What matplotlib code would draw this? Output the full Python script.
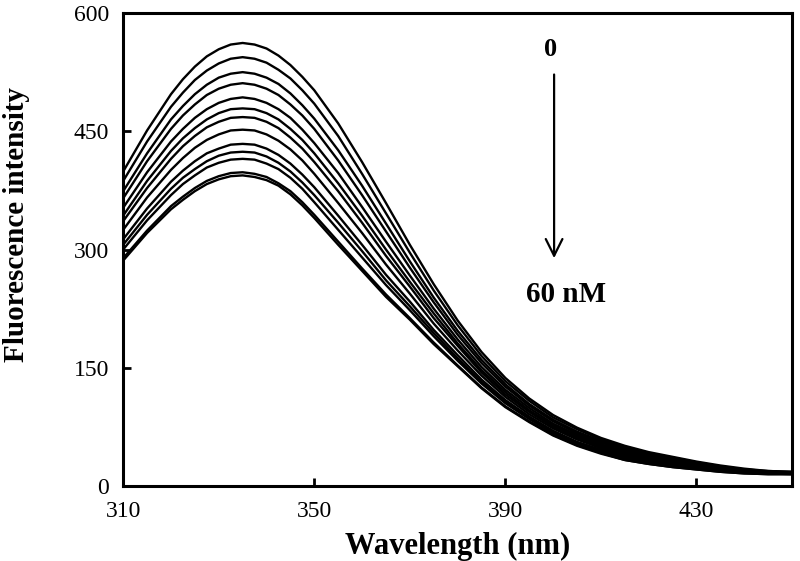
import matplotlib
matplotlib.use("Agg")
import matplotlib.pyplot as plt

plt.rcParams['font.family'] = ['Liberation Serif', 'DejaVu Serif']

wavelength = [310, 315, 320, 322.5, 325, 327.5, 330, 332.5, 335, 337.5, 340, 342.5, 345, 347.5, 350,
              355, 360, 365, 370, 375, 380, 385, 390, 395, 400, 405, 410, 415, 420, 425,
              430, 435, 440, 445, 450]

c00 = [399, 451, 497, 516, 532, 545, 554, 560, 562, 560, 555, 546, 534, 519, 502,
       460, 411, 359, 306, 256, 210, 170, 137, 111, 90, 74, 61, 51, 43, 37, 31, 26, 22, 19, 18]
c01 = [387, 437, 481, 499, 515, 527, 536, 542, 544, 542, 537, 528, 517, 502, 485,
       444, 396, 346, 296, 248, 204, 165, 133, 108, 87, 72, 59, 49, 41, 36, 30, 25, 21, 19, 18]
c02 = [374, 422, 465, 482, 497, 509, 518, 523, 525, 523, 518, 510, 498, 483, 466,
       426, 381, 333, 285, 239, 197, 160, 129, 104, 84, 69, 57, 47, 40, 34, 29, 24, 21, 18, 17]
c03 = [365, 412, 453, 470, 484, 496, 504, 509, 511, 509, 504, 496, 484, 470, 453,
       413, 369, 323, 277, 233, 192, 156, 126, 102, 82, 67, 55, 46, 38, 33, 28, 24, 20, 18, 17]
c04 = [353, 398, 437, 453, 467, 478, 486, 491, 493, 491, 486, 478, 467, 452, 435,
       397, 354, 310, 267, 225, 186, 151, 122, 99, 79, 65, 53, 44, 37, 32, 27, 23, 20, 17, 17]
c05 = [343, 387, 425, 441, 454, 465, 473, 478, 479, 478, 473, 465, 453, 439, 422,
       384, 343, 300, 259, 219, 181, 147, 119, 96, 77, 63, 51, 42, 36, 31, 26, 22, 19, 17, 17]
c06 = [336, 378, 415, 431, 444, 455, 462, 467, 468, 467, 462, 454, 442, 428, 411,
       374, 334, 292, 253, 213, 178, 144, 116, 94, 75, 61, 50, 41, 35, 30, 25, 22, 19, 17, 16]
c07 = [325, 366, 401, 416, 429, 439, 446, 451, 452, 451, 446, 438, 427, 413, 396,
       359, 321, 281, 244, 206, 172, 140, 113, 91, 73, 59, 48, 39, 33, 29, 25, 21, 18, 16, 16]
c08 = [313, 352, 386, 400, 412, 422, 428, 433, 434, 433, 428, 420, 409, 395, 379,
       343, 306, 268, 234, 198, 166, 135, 109, 88, 70, 56, 46, 37, 32, 27, 23, 20, 17, 16, 16]
c09 = [306, 344, 377, 391, 402, 412, 419, 423, 424, 423, 418, 410, 399, 385, 369,
       334, 298, 261, 228, 194, 162, 132, 107, 86, 69, 55, 45, 36, 31, 26, 23, 19, 17, 16, 16]
c10 = [300, 337, 369, 383, 394, 404, 410, 414, 415, 414, 409, 402, 391, 377, 360,
       325, 290, 255, 223, 190, 159, 130, 105, 85, 67, 54, 44, 35, 30, 26, 22, 19, 17, 16, 15]
c11 = [289, 324, 355, 367, 378, 387, 393, 397, 398, 396, 392, 384, 374, 360, 344,
       310, 276, 243, 213, 182, 153, 125, 101, 82, 65, 52, 42, 33, 28, 24, 21, 18, 16, 15, 15]
c12 = [286, 321, 351, 363, 374, 383, 389, 393, 394, 392, 388, 381, 370, 356, 340,
       306, 273, 240, 211, 180, 152, 124, 100, 81, 64, 51, 41, 33, 28, 24, 21, 18, 16, 15, 15]

spectra = [c00, c01, c02, c03, c04, c05, c06, c07, c08, c09, c10, c11, c12]

x_ticks = [310, 350, 390, 430]
y_ticks = [0, 150, 300, 450, 600]

fig = plt.figure(figsize=(8.0, 5.61), dpi=100)
ax = fig.add_axes([0.154, 0.1337, 0.836, 0.8431])

for s in spectra:
    ax.plot(wavelength, s, color='black', linewidth=1.7,
            solid_joinstyle='round', solid_capstyle='round')

ax.set_xlim(310, 450)
ax.set_ylim(0, 600)
ax.set_xticks(x_ticks)
ax.set_yticks(y_ticks)
ax.tick_params(axis='both', direction='in', length=6, width=2, labelsize=17,
               top=False, right=False)
ax.tick_params(axis='x', pad=11)
ax.tick_params(axis='y', pad=10)
for sp in ax.spines.values():
    sp.set_linewidth(2.2)

ax.set_xlabel('Wavelength (nm)', fontsize=22, fontweight='bold', labelpad=7)
ax.set_ylabel('Fluorescence intensity', fontsize=21, fontweight='bold')
ax.yaxis.set_label_coords(-0.139, 0.552)

ax.text(399.5, 554, '0', fontsize=19, fontweight='bold', ha='center', va='center')
ax.annotate('', xy=(400.2, 289), xytext=(400.2, 522),
            arrowprops=dict(arrowstyle='->', color='black', lw=1.6,
                            mutation_scale=30, shrinkA=0, shrinkB=0))
ax.text(402.8, 243, '60 nM', fontsize=21, fontweight='bold', ha='center', va='center')

fig.savefig('out.png', dpi=100)
